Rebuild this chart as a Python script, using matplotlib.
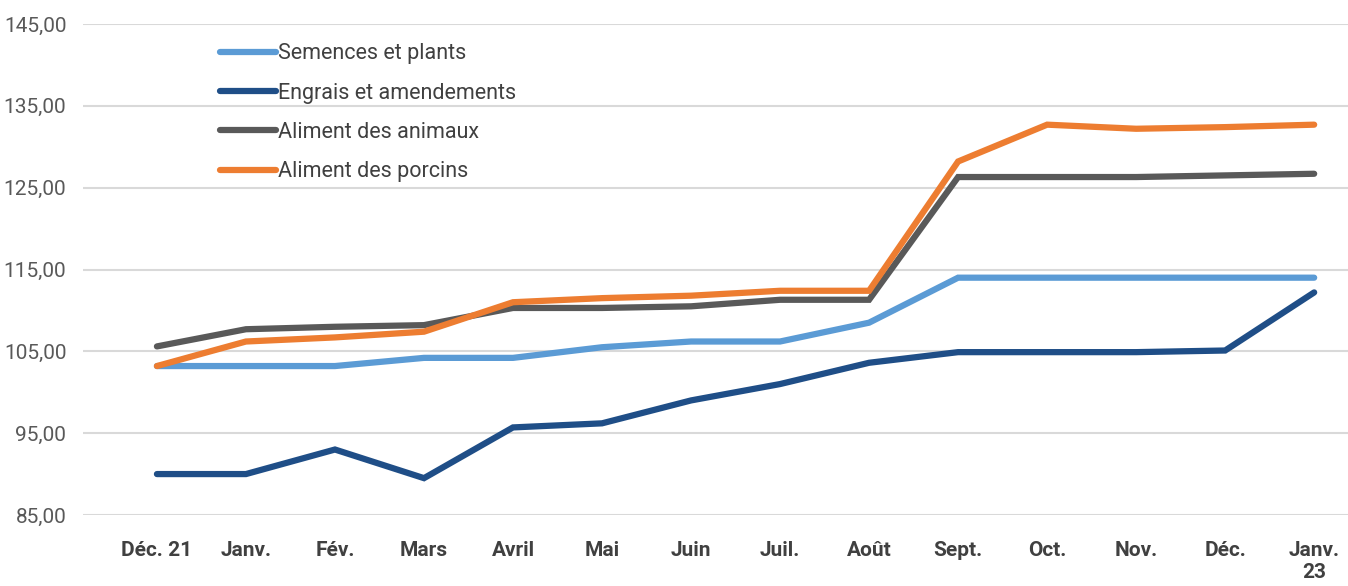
import matplotlib.pyplot as plt

# données
mois = ['Déc. 21', 'Janv.', 'Fév.', 'Mars', 'Avril', 'Mai', 'Juin', 'Juil.',
        'Août', 'Sept.', 'Oct.', 'Nov.', 'Déc.', 'Janv.\n23']
semences = [103.2, 103.2, 103.2, 104.2, 104.2, 105.5, 106.2, 106.2, 108.5,
            114.0, 114.0, 114.0, 114.0, 114.0]
engrais = [90.0, 90.0, 93.0, 89.5, 95.7, 96.2, 99.0, 101.0, 103.6,
           104.9, 104.9, 104.9, 105.1, 112.2]
animaux = [105.6, 107.7, 108.0, 108.2, 110.3, 110.3, 110.5, 111.3, 111.3,
           126.3, 126.3, 126.3, 126.5, 126.7]
porcins = [103.2, 106.2, 106.7, 107.4, 111.0, 111.5, 111.8, 112.4, 112.4,
           128.2, 132.7, 132.2, 132.4, 132.7]

series = [('Semences et plants', semences, '#5b9bd5'),
          ('Engrais et amendements', engrais, '#1f4e87'),
          ('Aliment des animaux', animaux, '#595959'),
          ('Aliment des porcins', porcins, '#ed7d31')]

fam = ['Roboto', 'DejaVu Sans']

fig = plt.figure(figsize=(13.48, 5.86), dpi=100)
ax = fig.add_axes([0.0616, 0.1212, 0.9384, 0.8378])

x = list(range(len(mois)))
for nom, vals, col in series:
    ax.plot(x, vals, color=col, lw=4.5, label=nom, solid_capstyle='round',
            solid_joinstyle='miter')

ax.set_ylim(85, 145)
ax.set_xlim(-0.83, 13.38)
ax.set_yticks(range(85, 146, 10))
ax.set_yticklabels([f'{v},00' for v in range(85, 146, 10)],
                   family=fam, fontsize=15, color='#595959')
ax.set_xticks(x)
ax.set_xticklabels(mois, family=fam, fontsize=15, fontweight='bold',
                   color='#404040', linespacing=1.2, va='top')
ax.tick_params(length=0)
ax.tick_params(axis='y', pad=12)
ax.tick_params(axis='x', pad=19)
ax.grid(axis='y', color='#d9d9d9', lw=1.5)
ax.set_axisbelow(True)
for s in ax.spines.values():
    s.set_visible(False)

leg = ax.legend(loc='upper left', bbox_to_anchor=(0.093, 1.0), frameon=False,
                handlelength=2.6, handletextpad=0.1, labelspacing=0.85,
                prop={'family': fam, 'size': 15.5})
for t in leg.get_texts():
    t.set_color('#404040')

fig.savefig('out.png', dpi=100)
